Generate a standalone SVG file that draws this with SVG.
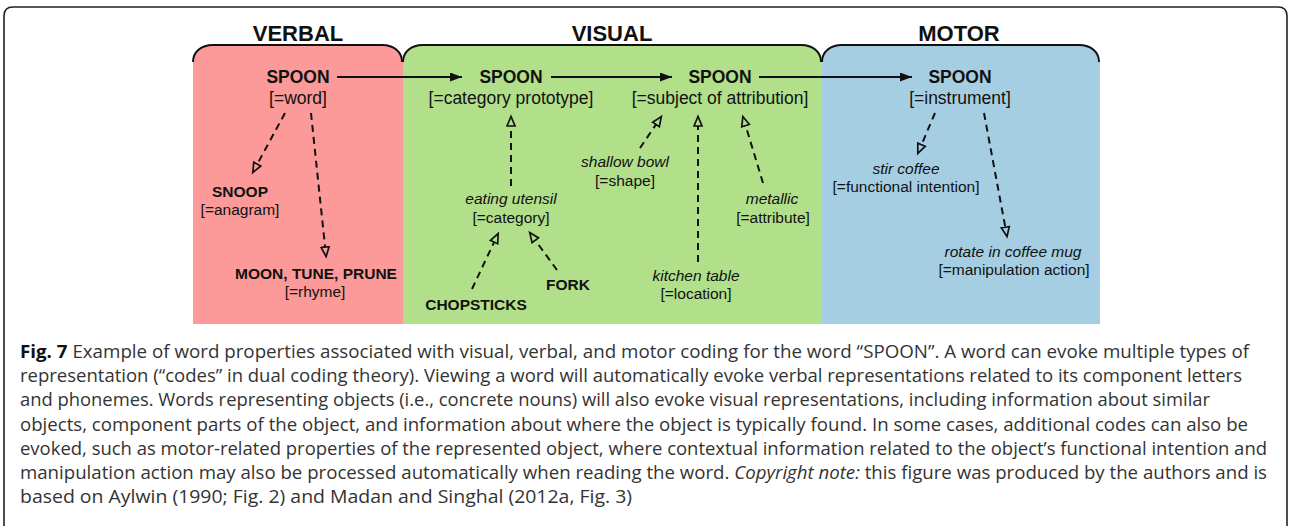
<svg xmlns="http://www.w3.org/2000/svg" width="1290" height="526" viewBox="0 0 1290 526">
<style>
.title{font-family:"Liberation Sans",Arial,sans-serif;font-weight:bold;font-size:22px;fill:#111;text-anchor:middle}
.main{font-family:"Liberation Sans",Arial,sans-serif;font-weight:bold;font-size:17.5px;fill:#111;text-anchor:middle}
.mainsub{font-family:"Liberation Sans",Arial,sans-serif;font-size:17.5px;fill:#111;text-anchor:middle}
.lb{font-family:"Liberation Sans",Arial,sans-serif;font-weight:bold;font-size:15.5px;fill:#111;text-anchor:middle}
.li{font-family:"Liberation Sans",Arial,sans-serif;font-style:italic;font-size:15.5px;fill:#111;text-anchor:middle}
.ls{font-family:"Liberation Sans",Arial,sans-serif;font-size:15.5px;fill:#111;text-anchor:middle}
.cap{font-family:"Open Sans","Noto Sans",sans-serif;font-size:17.3px;fill:#333}
.tab{fill:none;stroke:#111;stroke-width:2}
.solid{stroke:#111;stroke-width:2;fill:none}
.dash{stroke:#111;stroke-width:2;stroke-dasharray:7,5;fill:none}
</style>
<defs>
<marker id="filled" markerUnits="userSpaceOnUse" markerWidth="14" markerHeight="10" refX="12" refY="4.5" orient="auto">
<path d="M0,0 L12,4.5 L0,9 Z" fill="#111"/>
</marker>
<marker id="hollow" markerUnits="userSpaceOnUse" markerWidth="14" markerHeight="12" refX="1" refY="5.5" orient="auto">
<path d="M1,1.5 L10.5,5.5 L1,9.5 Z" fill="none" stroke="#111" stroke-width="1.7"/>
</marker>
</defs>
<rect x="0" y="0" width="1290" height="526" fill="#fff"/>
<path d="M4,526 V16 Q4,7 13,7 H1278 Q1287,7 1287,16 V526" fill="none" stroke="#222" stroke-width="1.6"/>

<g id="panel-verbal">
<path d="M193,324 V62 C193,52 201,45 213,45 H382 C394,45 402,52 402,62 L403,62 V324 Z" fill="#FB9A99"/>
<path class="tab" d="M193,62 C193,52 201,45 213,45 H382 C394,45 402,52 402,62"/>
<text class="title" x="298" y="41">VERBAL</text>
</g>
<g id="panel-visual">
<path d="M403,324 V62 C403,52 411,45 423,45 H801 C813,45 821,52 821,62 L822,62 V324 Z" fill="#B2DF8A"/>
<path class="tab" d="M403,62 C403,52 411,45 423,45 H801 C813,45 821,52 821,62"/>
<text class="title" x="612" y="41">VISUAL</text>
</g>
<g id="panel-motor">
<path d="M822,324 V62 C822,52 830,45 842,45 H1079 C1091,45 1099,52 1099,62 L1100,62 V324 Z" fill="#A6CEE3"/>
<path class="tab" d="M822,62 C822,52 830,45 842,45 H1079 C1091,45 1099,52 1099,62"/>
<text class="title" x="959" y="41">MOTOR</text>
</g>

<g id="connectors">
<line class="solid" x1="337" y1="77" x2="462" y2="77" marker-end="url(#filled)"/>
<line class="solid" x1="551" y1="77" x2="672" y2="77" marker-end="url(#filled)"/>
<line class="solid" x1="759" y1="77" x2="912" y2="77" marker-end="url(#filled)"/>
<line class="dash" x1="285" y1="113" x2="257.3" y2="164.1" marker-end="url(#hollow)"/>
<line class="dash" x1="311" y1="113" x2="325.1" y2="247.1" marker-end="url(#hollow)"/>
<line class="dash" x1="511" y1="186" x2="511" y2="126" marker-end="url(#hollow)"/>
<line class="dash" x1="472" y1="289" x2="494.1" y2="242.1" marker-end="url(#hollow)"/>
<line class="dash" x1="557" y1="270" x2="535.3" y2="240.3" marker-end="url(#hollow)"/>
<line class="dash" x1="640" y1="148" x2="656" y2="124.5" marker-end="url(#hollow)"/>
<line class="dash" x1="698" y1="262" x2="698" y2="126" marker-end="url(#hollow)"/>
<line class="dash" x1="763" y1="183" x2="745.6" y2="125.6" marker-end="url(#hollow)"/>
<line class="dash" x1="935" y1="113" x2="921.5" y2="144.7" marker-end="url(#hollow)"/>
<line class="dash" x1="984" y1="113" x2="1005.3" y2="227.2" marker-end="url(#hollow)"/>
</g>

<g id="spoon-word"><text class="main" x="298" y="83">SPOON</text><text class="mainsub" x="298" y="104">[=word]</text></g>
<g id="snoop"><text class="lb" x="240" y="197">SNOOP</text><text class="ls" x="240" y="215">[=anagram]</text></g>
<g id="moon"><text class="lb" x="316" y="279">MOON, TUNE, PRUNE</text><text class="ls" x="315" y="297">[=rhyme]</text></g>

<g id="spoon-prototype"><text class="main" x="511" y="83">SPOON</text><text class="mainsub" x="511" y="104">[=category prototype]</text></g>
<g id="eating-utensil"><text class="li" x="511" y="204">eating utensil</text><text class="ls" x="511" y="223">[=category]</text></g>
<g id="chopsticks"><text class="lb" x="476" y="310">CHOPSTICKS</text></g>
<g id="fork"><text class="lb" x="568" y="290">FORK</text></g>

<g id="spoon-subject"><text class="main" x="720" y="83">SPOON</text><text class="mainsub" x="720" y="104">[=subject of attribution]</text></g>
<g id="shallow-bowl"><text class="li" x="625" y="167">shallow bowl</text><text class="ls" x="625" y="186">[=shape]</text></g>
<g id="kitchen-table"><text class="li" x="696" y="281">kitchen table</text><text class="ls" x="696" y="299">[=location]</text></g>
<g id="metallic"><text class="li" x="772" y="204">metallic</text><text class="ls" x="773" y="223">[=attribute]</text></g>

<g id="spoon-instrument"><text class="main" x="960" y="83">SPOON</text><text class="mainsub" x="960" y="104">[=instrument]</text></g>
<g id="stir-coffee"><text class="li" x="906" y="174">stir coffee</text><text class="ls" x="906" y="192">[=functional intention]</text></g>
<g id="rotate"><text class="li" x="1013" y="257">rotate in coffee mug</text><text class="ls" x="1014" y="275">[=manipulation action]</text></g>

<g id="caption">
<text class="cap" x="20" y="358" textLength="1229" lengthAdjust="spacingAndGlyphs"><tspan font-weight="bold" fill="#111">Fig. 7</tspan> Example of word properties associated with visual, verbal, and motor coding for the word “SPOON”. A word can evoke multiple types of</text>
<text class="cap" x="20" y="382" textLength="1222" lengthAdjust="spacingAndGlyphs">representation (“codes” in dual coding theory). Viewing a word will automatically evoke verbal representations related to its component letters</text>
<text class="cap" x="20" y="406" textLength="1190" lengthAdjust="spacingAndGlyphs">and phonemes. Words representing objects (i.e., concrete nouns) will also evoke visual representations, including information about similar</text>
<text class="cap" x="20" y="431" textLength="1228" lengthAdjust="spacingAndGlyphs">objects, component parts of the object, and information about where the object is typically found. In some cases, additional codes can also be</text>
<text class="cap" x="20" y="455" textLength="1247" lengthAdjust="spacingAndGlyphs">evoked, such as motor-related properties of the represented object, where contextual information related to the object’s functional intention and</text>
<text class="cap" x="20" y="479" textLength="1247" lengthAdjust="spacingAndGlyphs">manipulation action may also be processed automatically when reading the word. <tspan font-style="italic">Copyright note:</tspan> this figure was produced by the authors and is</text>
<text class="cap" x="20" y="503" textLength="612" lengthAdjust="spacingAndGlyphs">based on Aylwin (1990; Fig. 2) and Madan and Singhal (2012a, Fig. 3)</text>
</g>
</svg>
